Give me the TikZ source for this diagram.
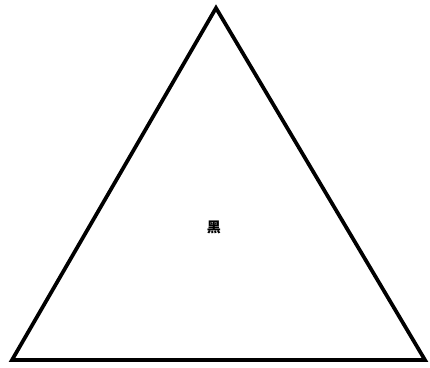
\documentclass[tikz,border=0pt]{standalone}
\usepackage{fontspec}
\newfontfamily\cjk{Noto Sans CJK SC}
\usetikzlibrary{positioning}

\begin{document}
\begin{tikzpicture}[x=0.03cm, y=-0.03cm]
  % ramme
  \useasboundingbox (0,0) rectangle (430,367);
  % hjoerner
  \coordinate (top) at (216,8);
  \coordinate (venstre) at (12,360);
  \coordinate (hoejre) at (425,360);
  % trekant
  \draw[line width=3.2pt, line join=miter] (top) -- (hoejre) -- (venstre) -- cycle;
  % tegn i midten
  \node[font=\cjk\fontsize{12}{14}\selectfont\bfseries] (tegn) at (214,227) {黑};
\end{tikzpicture}
\end{document}
